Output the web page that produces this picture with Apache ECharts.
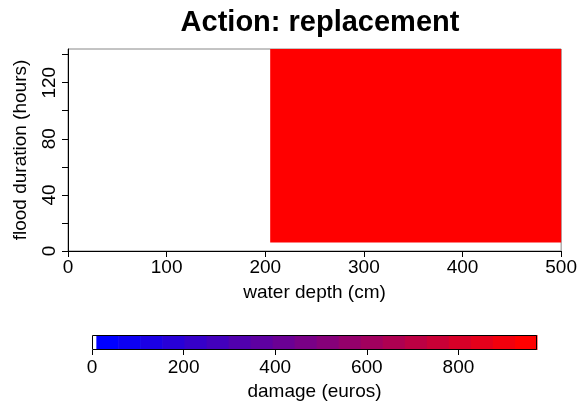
<!DOCTYPE html>
<html>
<head>
<meta charset="utf-8">
<script src="https://cdn.jsdelivr.net/npm/echarts@6/dist/echarts.min.js"></script>
<style>
  html, body { margin: 0; padding: 0; background: #fff; }
  #chart { width: 580px; height: 403px; }
</style>
</head>
<body>
<div id="chart"></div>
<script>
// Damage surface: each cell is [depthFrom, depthTo, durationFrom, durationTo, damage]
const depthRange = [0, 500];          // water depth (cm)
const durationRange = [0, 144];       // flood duration (hours)
const cellDepthFrom = [205];
const cellDepthTo = [500];
const cellDurationFrom = [6];
const cellDurationTo = [144];
const cellDamage = [972];

// Colour key: class breaks (euros); first class is blank, then blue -> red
const keyBreaks = [0, 9.5, 57.6, 105.7, 153.8, 201.9, 250, 298.1, 346.2, 394.3, 442.4,
  490.5, 538.6, 586.7, 634.8, 682.9, 731, 779.1, 827.2, 875.3, 923.4, 971.5];
const keyTicks = [0, 200, 400, 600, 800];

// Palette: white for the first class, then a linear blue-to-red ramp
function classColour(i) {
  if (i === 0) return '#ffffff';
  const n = keyBreaks.length - 2;
  const t = (i - 1) / (n - 1);
  const r = Math.round(255 * t), b = Math.round(255 * (1 - t));
  return 'rgb(' + r + ',0,' + b + ')';
}
function colourFor(v) {
  for (let i = keyBreaks.length - 2; i >= 0; i--) {
    if (v >= keyBreaks[i]) return classColour(i);
  }
  return classColour(0);
}

const cells = cellDamage.map((d, i) => [cellDepthFrom[i], cellDepthTo[i], cellDurationFrom[i], cellDurationTo[i], d]);
const keyData = keyBreaks.slice(0, -1).map((b, i) => [b, keyBreaks[i + 1], i]);
const keyMax = keyBreaks[keyBreaks.length - 1];

const FONT = 'Liberation Sans, Arial, Helvetica, sans-serif';
const txt = { color: '#000', fontFamily: FONT, fontSize: 19 };

const chart = echarts.init(document.getElementById('chart'), null, { renderer: 'canvas' });
chart.setOption({
  animation: false,
  backgroundColor: '#fff',
  title: {
    text: 'Action: replacement',
    left: 315, top: 3, textAlign: 'center',
    textStyle: { fontFamily: FONT, fontSize: 29, fontWeight: 'bold', color: '#000' }
  },
  grid: [
    { left: 68, right: 18, top: 49, bottom: 152, show: true, borderColor: '#888', borderWidth: 1 },
    { left: 92, right: 43, top: 335, height: 15, show: false }
  ],
  xAxis: [
    {
      gridIndex: 0, type: 'value', min: depthRange[0], max: depthRange[1], interval: 100,
      name: 'water depth (cm)', nameLocation: 'middle', nameGap: 32,
      nameTextStyle: txt,
      axisLine: { show: true, onZero: false, lineStyle: { color: '#000', width: 1 } },
      axisTick: { show: true, length: 6, lineStyle: { color: '#000' } },
      axisLabel: { ...txt, margin: 7 },
      splitLine: { show: false }
    },
    {
      gridIndex: 1, type: 'value', min: 0, max: keyMax,
      name: 'damage (euros)', nameLocation: 'middle', nameGap: 32,
      nameTextStyle: txt,
      axisLine: { show: false },
      axisTick: { show: true, length: 5, lineStyle: { color: '#000' }, customValues: keyTicks },
      axisLabel: { ...txt, margin: 8, customValues: keyTicks },
      splitLine: { show: false }
    }
  ],
  yAxis: [
    {
      gridIndex: 0, type: 'value', min: durationRange[0], max: durationRange[1], interval: 20,
      name: 'flood duration (hours)', nameLocation: 'middle', nameGap: 38,
      nameTextStyle: txt,
      axisLine: { show: true, onZero: false, lineStyle: { color: '#000', width: 1 } },
      axisTick: { show: true, length: 6, lineStyle: { color: '#000' } },
      axisLabel: {
        ...txt, rotate: 90, margin: 9, showMaxLabel: false,
        formatter: v => (v % 40 === 0 ? String(v) : '')
      },
      splitLine: { show: false }
    },
    {
      gridIndex: 1, type: 'value', min: 0, max: 1,
      axisLine: { show: false }, axisTick: { show: false },
      axisLabel: { show: false }, splitLine: { show: false }
    }
  ],
  series: [
    {
      type: 'custom', xAxisIndex: 0, yAxisIndex: 0,
      data: cells,
      clip: true,
      renderItem: (params, api) => {
        const p0 = api.coord([api.value(0), api.value(3)]);
        const p1 = api.coord([api.value(1), api.value(2)]);
        return {
          type: 'rect',
          shape: { x: p0[0], y: p0[1], width: p1[0] - p0[0], height: p1[1] - p0[1] },
          style: { fill: colourFor(api.value(4)) }
        };
      }
    },
    {
      // colour key classes
      type: 'custom', xAxisIndex: 1, yAxisIndex: 1,
      data: keyData,
      z: 2,
      renderItem: (params, api) => {
        const p0 = api.coord([api.value(0), 1]);
        const p1 = api.coord([api.value(1), 0]);
        return {
          type: 'rect',
          shape: { x: p0[0], y: p0[1], width: p1[0] - p0[0] + 0.5, height: p1[1] - p0[1] },
          style: { fill: classColour(api.value(2)) }
        };
      }
    },
    {
      // outline round the colour key
      type: 'custom', xAxisIndex: 1, yAxisIndex: 1,
      data: [[0, keyMax]],
      z: 3,
      renderItem: (params, api) => {
        const p0 = api.coord([api.value(0), 1]);
        const p1 = api.coord([api.value(1), 0]);
        return {
          type: 'rect',
          shape: { x: Math.round(p0[0]) + 0.5, y: Math.round(p0[1]) + 0.5,
                   width: Math.round(p1[0] - p0[0]) - 1, height: Math.round(p1[1] - p0[1]) - 1 },
          style: { fill: null, stroke: '#000', lineWidth: 1 }
        };
      }
    }
  ]
});
</script>
</body>
</html>
